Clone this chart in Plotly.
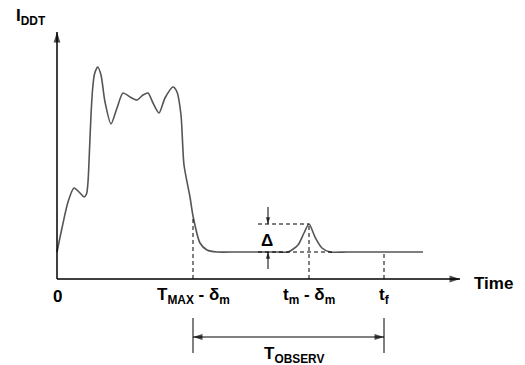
import plotly.graph_objects as go

# Current waveform (time units, current units); origin at axes crossing
time = [0, 5, 11, 17, 23, 27, 29.5, 31, 32.5, 34, 35.7, 37.5, 40.7, 44, 48, 54, 60, 66, 73,
        80, 86, 91, 96, 102, 108, 116, 120, 124, 127, 133, 136, 143, 150, 160, 180, 200, 220,
        231, 241, 247, 252, 258, 265, 273, 290, 320, 366]
current = [27, 51, 77, 91, 86, 82, 85, 97, 129, 164, 191, 205, 212, 204, 177, 155, 171, 186,
           182, 179, 184, 186, 176, 166, 181, 192, 187, 164, 114, 82, 63, 36, 29, 27, 27, 27,
           27, 27, 34, 46, 55, 42, 31, 27, 27, 27, 27]

baseline = 27
t_max_d = 136   # T_MAX - delta_m
t_m_d = 252     # t_m - delta_m
t_f = 327
i_at_tmax = 63
i_peak = 55
x_end = 403
y_top = 247

tick_pos = [0, t_max_d, t_m_d, t_f]
tick_text = ["0", "T<sub>MAX</sub> - δ<sub>m</sub>", "t<sub>m</sub> - δ<sub>m</sub>", "t<sub>f</sub>"]

FONT = dict(family="Liberation Sans, Arial, sans-serif", size=17, color="black", weight="bold")

fig = go.Figure()
fig.add_trace(go.Scatter(x=time, y=current, mode="lines",
                         line=dict(color="#555555", width=1.6, shape="spline", smoothing=0.7),
                         hoverinfo="skip", showlegend=False))


def arrow_line(x0, y0, x1, y1, angle_end, width=1.5, size=11, start_angle=None):
    xs, ys, syms, angs, sizes = [x0, x1], [y0, y1], ["line-ns", "arrow"], [0, angle_end], [0, size]
    if start_angle is not None:
        syms[0] = "arrow"
        angs[0] = start_angle
        sizes[0] = size
    fig.add_trace(go.Scatter(x=xs, y=ys, mode="lines+markers",
                             line=dict(color="black", width=width),
                             marker=dict(symbol=syms, angle=angs, size=sizes, color="black",
                                         line=dict(width=0)),
                             hoverinfo="skip", showlegend=False))


# axes
arrow_line(0, 0, x_end, 0, 90)
arrow_line(0, 0, 0, y_top, 0)
# delta arrows
arrow_line(211, i_peak + 17, 211, i_peak, 180, width=1, size=7)
arrow_line(211, baseline - 17, 211, baseline, 0, width=1, size=7)
# T_OBSERV double arrow
arrow_line(t_max_d, -58, t_f, -58, 90, width=1, size=10, start_angle=270)

dash = "4px,3px"
shapes = [
    dict(type="line", x0=t_max_d, x1=t_max_d, y0=0, y1=i_at_tmax),
    dict(type="line", x0=t_m_d, x1=t_m_d, y0=0, y1=i_peak),
    dict(type="line", x0=t_f, x1=t_f, y0=0, y1=baseline),
    dict(type="line", x0=201, x1=t_m_d, y0=i_peak, y1=i_peak),
    dict(type="line", x0=201, x1=276, y0=baseline, y1=baseline),
]
for s in shapes:
    s.update(xref="x", yref="y", line=dict(color="black", width=1, dash=dash))
for xv in [t_max_d, t_f]:
    shapes.append(dict(type="line", xref="x", yref="y", x0=xv, x1=xv, y0=-39, y1=-74,
                       line=dict(color="black", width=1)))
fig.update_layout(shapes=shapes)

ann = []
for xv, tt in zip(tick_pos, tick_text):
    ann.append(dict(x=xv, y=-17, xref="x", yref="y", text=tt, showarrow=False, font=FONT,
                    xanchor="center", yanchor="middle"))
ann.append(dict(x=415, y=-4, xref="x", yref="y", text="Time", showarrow=False, font=FONT,
                xanchor="left", yanchor="middle"))
ann.append(dict(x=-43, y=262, xref="x", yref="y", text="I<sub>DDT</sub>", showarrow=False, font=FONT,
                xanchor="left", yanchor="middle"))
ann.append(dict(x=210, y=39, xref="x", yref="y", text="Δ", showarrow=False, font=FONT,
                xanchor="center", yanchor="middle"))
ann.append(dict(x=237, y=-76, xref="x", yref="y", text="T<sub>OBSERV</sub>", showarrow=False, font=FONT,
                xanchor="center", yanchor="middle"))
fig.update_layout(annotations=ann)

fig.update_layout(width=525, height=365, margin=dict(l=0, r=0, t=0, b=0),
                  paper_bgcolor="white", plot_bgcolor="white",
                  xaxis=dict(range=[-57, 468], visible=False, fixedrange=True),
                  yaxis=dict(range=[-86, 279], visible=False, fixedrange=True))
fig.write_html("out.html")
